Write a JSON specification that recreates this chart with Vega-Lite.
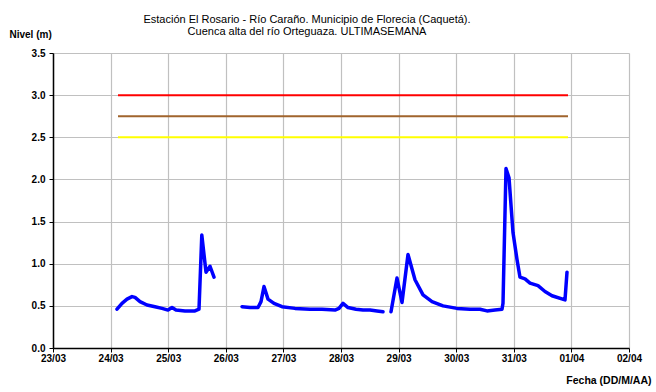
{
  "$schema": "https://vega.github.io/schema/vega-lite/v6.json",
  "width": 576,
  "height": 295,
  "autosize": {"type": "none"},
  "padding": {"left": 53, "top": 53, "right": 27, "bottom": 44},
  "background": "white",
  "config": {
    "font": "Liberation Sans",
    "view": {"stroke": null},
    "axis": {"gridColor": "#C0C0C0", "gridWidth": 1.2, "domainColor": "black", "domainWidth": 1.5, "tickColor": "black", "labelColor": "black", "labelFont": "Liberation Sans", "labelFontWeight": "bold", "labelFontSize": 10, "titleFont": "Liberation Sans", "titleFontWeight": "bold", "titleFontSize": 10, "titleColor": "black"}
  },
  "title": {
    "text": ["Estación El Rosario - Río Caraño. Municipio de Florecia (Caquetá).", "Cuenca alta del río Orteguaza. ULTIMASEMANA"],
    "font": "Liberation Sans",
    "fontSize": 11,
    "fontWeight": "normal",
    "color": "black",
    "anchor": "middle",
    "offset": -8,
    "lineHeight": 12,
    "dx": -34
  },
  "datasets": {
    "nivel": [
      {"fecha": "2011-03-24T02:40", "nivel": 0.46, "tramo": "a"},
      {"fecha": "2011-03-24T04:45", "nivel": 0.53, "tramo": "a"},
      {"fecha": "2011-03-24T06:50", "nivel": 0.58, "tramo": "a"},
      {"fecha": "2011-03-24T08:55", "nivel": 0.61, "tramo": "a"},
      {"fecha": "2011-03-24T10:10", "nivel": 0.6, "tramo": "a"},
      {"fecha": "2011-03-24T12:15", "nivel": 0.55, "tramo": "a"},
      {"fecha": "2011-03-24T15:10", "nivel": 0.51, "tramo": "a"},
      {"fecha": "2011-03-24T18:30", "nivel": 0.49, "tramo": "a"},
      {"fecha": "2011-03-24T21:25", "nivel": 0.47, "tramo": "a"},
      {"fecha": "2011-03-24T23:55", "nivel": 0.45, "tramo": "a"},
      {"fecha": "2011-03-25T01:35", "nivel": 0.48, "tramo": "a"},
      {"fecha": "2011-03-25T03:15", "nivel": 0.45, "tramo": "a"},
      {"fecha": "2011-03-25T07:00", "nivel": 0.44, "tramo": "a"},
      {"fecha": "2011-03-25T11:10", "nivel": 0.44, "tramo": "a"},
      {"fecha": "2011-03-25T12:50", "nivel": 0.46, "tramo": "a"},
      {"fecha": "2011-03-25T14:00", "nivel": 1.34, "tramo": "a"},
      {"fecha": "2011-03-25T15:45", "nivel": 0.9, "tramo": "a"},
      {"fecha": "2011-03-25T17:25", "nivel": 0.97, "tramo": "a"},
      {"fecha": "2011-03-25T19:05", "nivel": 0.84, "tramo": "a"},
      {"fecha": "2011-03-26T06:45", "nivel": 0.49, "tramo": "b"},
      {"fecha": "2011-03-26T10:05", "nivel": 0.48, "tramo": "b"},
      {"fecha": "2011-03-26T13:25", "nivel": 0.48, "tramo": "b"},
      {"fecha": "2011-03-26T14:40", "nivel": 0.55, "tramo": "b"},
      {"fecha": "2011-03-26T15:55", "nivel": 0.73, "tramo": "b"},
      {"fecha": "2011-03-26T17:35", "nivel": 0.58, "tramo": "b"},
      {"fecha": "2011-03-26T20:05", "nivel": 0.53, "tramo": "b"},
      {"fecha": "2011-03-26T23:25", "nivel": 0.49, "tramo": "b"},
      {"fecha": "2011-03-27T04:50", "nivel": 0.47, "tramo": "b"},
      {"fecha": "2011-03-27T11:05", "nivel": 0.46, "tramo": "b"},
      {"fecha": "2011-03-27T16:05", "nivel": 0.46, "tramo": "b"},
      {"fecha": "2011-03-27T21:30", "nivel": 0.45, "tramo": "b"},
      {"fecha": "2011-03-27T23:10", "nivel": 0.47, "tramo": "b"},
      {"fecha": "2011-03-28T00:50", "nivel": 0.53, "tramo": "b"},
      {"fecha": "2011-03-28T02:55", "nivel": 0.48, "tramo": "b"},
      {"fecha": "2011-03-28T06:15", "nivel": 0.46, "tramo": "b"},
      {"fecha": "2011-03-28T09:10", "nivel": 0.45, "tramo": "b"},
      {"fecha": "2011-03-28T12:05", "nivel": 0.45, "tramo": "b"},
      {"fecha": "2011-03-28T15:00", "nivel": 0.44, "tramo": "b"},
      {"fecha": "2011-03-28T17:30", "nivel": 0.43, "tramo": "b"},
      {"fecha": "2011-03-28T20:50", "nivel": 0.43, "tramo": "c"},
      {"fecha": "2011-03-28T23:20", "nivel": 0.83, "tramo": "c"},
      {"fecha": "2011-03-29T01:25", "nivel": 0.54, "tramo": "c"},
      {"fecha": "2011-03-29T03:55", "nivel": 1.11, "tramo": "c"},
      {"fecha": "2011-03-29T06:50", "nivel": 0.81, "tramo": "c"},
      {"fecha": "2011-03-29T10:10", "nivel": 0.63, "tramo": "c"},
      {"fecha": "2011-03-29T13:55", "nivel": 0.55, "tramo": "c"},
      {"fecha": "2011-03-29T18:30", "nivel": 0.5, "tramo": "c"},
      {"fecha": "2011-03-30T00:20", "nivel": 0.47, "tramo": "c"},
      {"fecha": "2011-03-30T05:45", "nivel": 0.46, "tramo": "c"},
      {"fecha": "2011-03-30T09:55", "nivel": 0.46, "tramo": "c"},
      {"fecha": "2011-03-30T12:50", "nivel": 0.44, "tramo": "c"},
      {"fecha": "2011-03-30T16:10", "nivel": 0.45, "tramo": "c"},
      {"fecha": "2011-03-30T19:05", "nivel": 0.46, "tramo": "c"},
      {"fecha": "2011-03-30T19:30", "nivel": 0.53, "tramo": "c"},
      {"fecha": "2011-03-30T20:45", "nivel": 2.13, "tramo": "c"},
      {"fecha": "2011-03-30T22:00", "nivel": 2.02, "tramo": "c"},
      {"fecha": "2011-03-30T23:40", "nivel": 1.37, "tramo": "c"},
      {"fecha": "2011-03-31T01:20", "nivel": 1.05, "tramo": "c"},
      {"fecha": "2011-03-31T02:35", "nivel": 0.84, "tramo": "c"},
      {"fecha": "2011-03-31T04:40", "nivel": 0.82, "tramo": "c"},
      {"fecha": "2011-03-31T06:45", "nivel": 0.77, "tramo": "c"},
      {"fecha": "2011-03-31T10:05", "nivel": 0.74, "tramo": "c"},
      {"fecha": "2011-03-31T13:00", "nivel": 0.67, "tramo": "c"},
      {"fecha": "2011-03-31T15:55", "nivel": 0.62, "tramo": "c"},
      {"fecha": "2011-03-31T21:20", "nivel": 0.57, "tramo": "c"},
      {"fecha": "2011-03-31T22:10", "nivel": 0.9, "tramo": "c"}
    ],
    "umbrales": [
      {"fecha": "2011-03-24T03:05", "nivel": 3.0, "umbral": "rojo"},
      {"fecha": "2011-03-31T22:35", "nivel": 3.0, "umbral": "rojo"},
      {"fecha": "2011-03-24T03:05", "nivel": 2.75, "umbral": "naranja"},
      {"fecha": "2011-03-31T22:35", "nivel": 2.75, "umbral": "naranja"},
      {"fecha": "2011-03-24T03:05", "nivel": 2.5, "umbral": "amarillo"},
      {"fecha": "2011-03-31T22:35", "nivel": 2.5, "umbral": "amarillo"}
    ]
  },
  "layer": [
    {
      "data": {"name": "umbrales"},
      "mark": {"type": "line", "strokeWidth": 2, "clip": true},
      "encoding": {
        "x": {
          "field": "fecha", "type": "temporal",
          "scale": {"domain": [{"year": 2011, "month": 3, "date": 23}, {"year": 2011, "month": 4, "date": 2}]},
          "axis": {"format": "%d/%m", "tickCount": {"interval": "day", "step": 1}, "title": "Fecha (DD/M/AA)", "titleAnchor": "end", "titleAlign": "right", "titleX": 598, "titleY": 27, "titleFontSize": 10.5, "labelPadding": 1, "tickSize": 4, "labelFlush": false}
        },
        "y": {
          "field": "nivel", "type": "quantitative",
          "scale": {"domain": [0, 3.5]},
          "axis": {"format": ".1f", "values": [0, 0.5, 1, 1.5, 2, 2.5, 3, 3.5], "title": "Nivel (m)", "titleAngle": 0, "titleAlign": "left", "titleAnchor": "end", "titleX": -44, "titleY": -14, "labelPadding": 4, "tickSize": 4}
        },
        "color": {
          "field": "umbral", "type": "nominal",
          "scale": {"domain": ["rojo", "naranja", "amarillo"], "range": ["#FF0000", "#A0642D", "#FFFF00"]},
          "legend": null
        }
      }
    },
    {
      "data": {"name": "nivel"},
      "mark": {"type": "line", "color": "#0000FF", "strokeWidth": 3.5, "strokeJoin": "round", "strokeCap": "round"},
      "encoding": {
        "x": {"field": "fecha", "type": "temporal"},
        "y": {"field": "nivel", "type": "quantitative"},
        "detail": {"field": "tramo", "type": "nominal"}
      }
    }
  ]
}
